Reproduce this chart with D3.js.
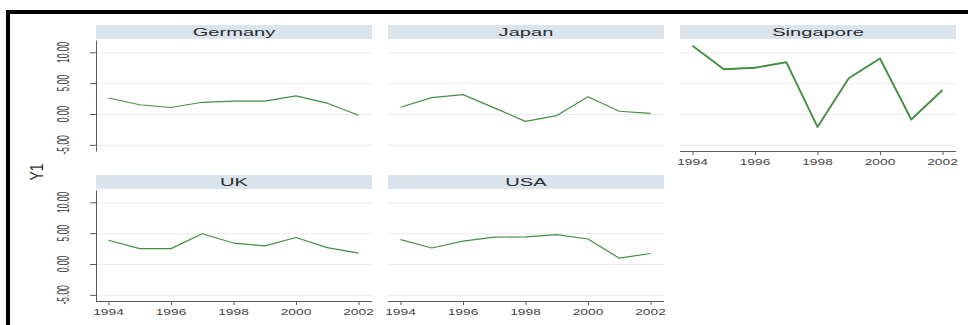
<!DOCTYPE html>
<html>
<head>
<meta charset="utf-8">
<script src="https://cdn.jsdelivr.net/npm/d3@7"></script>
<style>
  html, body { margin: 0; padding: 0; background: #ffffff; }
  svg { display: block; font-family: "Liberation Sans", Arial, sans-serif; }
</style>
</head>
<body>
<svg id="chart" width="968" height="325"></svg>
<script>
// Annual series, 1994–2002, one small panel per country
const years = [1994, 1995, 1996, 1997, 1998, 1999, 2000, 2001, 2002];
const xTicks = [1994, 1996, 1998, 2000, 2002];
const yTicks = [-5, 0, 5, 10];
const yTickLabels = ["-5.00", "0.00", "5.00", "10.00"];
const countries = ["Germany", "Japan", "Singapore", "UK", "USA"];

const germany   = [2.6, 1.5, 1.05, 1.9, 2.1, 2.1, 2.95, 1.75, -0.2];
const japan     = [1.1, 2.65, 3.15, 1.0, -1.2, -0.25, 2.8, 0.45, 0.1];
const singapore = [11.05, 7.25, 7.5, 8.4, -2.1, 5.8, 9.0, -0.9, 3.9];
const uk        = [3.85, 2.5, 2.5, 4.9, 3.4, 2.95, 4.3, 2.65, 1.75];
const usa       = [3.95, 2.6, 3.7, 4.35, 4.4, 4.75, 4.05, 0.95, 1.7];

const seriesByCountry = { Germany: germany, Japan: japan, Singapore: singapore, UK: uk, USA: usa };

// Grid of panels: 3 columns, 2 rows
const colLeft = [96, 388, 680];
const rowTop = [40, 190];
const panelW = 276, panelH = 111;
const lineColor = "#428f42";
const axisColor = "#5a5a5a";

const svg = d3.select("#chart");

// outer frame (top and left rule)
svg.append("path")
  .attr("d", "M8,325 V12 H972")
  .attr("fill", "none")
  .attr("stroke", "#000")
  .attr("stroke-width", 4);

// text helper: horizontally widened lettering
function wideText(g, x, y, str, size, sx, rotate, color) {
  return g.append("text")
    .attr("transform", `translate(${x},${y}) scale(${sx},1)` + (rotate ? ` rotate(${rotate})` : ""))
    .attr("text-anchor", "middle")
    .attr("dy", "0.35em")
    .attr("font-size", size)
    .attr("fill", color)
    .text(str);
}

countries.forEach((name, i) => {
  const col = i % 3, row = Math.floor(i / 3);
  const left = colLeft[col], top = rowTop[row];
  const values = seriesByCountry[name];
  const showY = col === 0;
  const showX = row === 1 || name === "Singapore";

  const x = d3.scaleLinear().domain([1994, 2002]).range([left + 12.5, left + 262.5]);
  const y = d3.scaleLinear().domain([-6, 12]).range([top + panelH, top]);

  const g = svg.append("g");

  // header strip with the country name
  g.append("rect")
    .attr("x", left).attr("y", top - 15)
    .attr("width", panelW).attr("height", 14)
    .attr("fill", "#d9e4ec");
  wideText(g, left + panelW / 2, top - 8, name, 11.5, 1.75, 0, "#2b2b2b");

  // horizontal grid
  g.append("g")
    .attr("transform", `translate(${left},0)`)
    .call(d3.axisLeft(y).tickValues(yTicks).tickSize(-panelW).tickFormat(""))
    .call(a => a.select(".domain").remove())
    .call(a => a.selectAll("line").attr("stroke", "#eaeaea").attr("stroke-width", 1));

  // y axis on the left column
  if (showY) {
    const ya = g.append("g")
      .attr("transform", `translate(${left},0)`)
      .call(d3.axisLeft(y).tickValues(yTicks).tickSize(6).tickSizeOuter(0).tickFormat(""));
    ya.select(".domain").attr("stroke", axisColor);
    ya.selectAll(".tick line").attr("stroke", axisColor);
    yTicks.forEach((t, k) => {
      wideText(g, left - 33, y(t), yTickLabels[k], 8.5, 1.85, -90, "#444");
    });
  }

  // x axis where the panel has no panel beneath it
  if (showX) {
    const xa = g.append("g")
      .attr("transform", `translate(0,${top + panelH})`)
      .call(d3.axisBottom(x).tickValues(xTicks).tickSize(4).tickSizeOuter(0).tickFormat(""));
    xa.select(".domain").attr("d", `M${left},0.5H${left + panelW}`).attr("stroke", axisColor);
    xa.selectAll(".tick line").attr("stroke", axisColor);
    xTicks.forEach(t => {
      wideText(g, x(t), top + panelH + 11, String(t), 9.5, 1.45, 0, "#444");
    });
  }

  // the series line
  const line = d3.line().x((d, k) => x(years[k])).y(d => y(d));
  g.append("path")
    .datum(values)
    .attr("d", line)
    .attr("fill", "none")
    .attr("stroke", lineColor)
    .attr("stroke-width", name === "Singapore" ? 1.9 : 1.2)
    .attr("stroke-linejoin", "round");
});

// shared y axis title
wideText(svg, 37, 172, "Y1", 14, 1.3, -90, "#333");
</script>
</body>
</html>
